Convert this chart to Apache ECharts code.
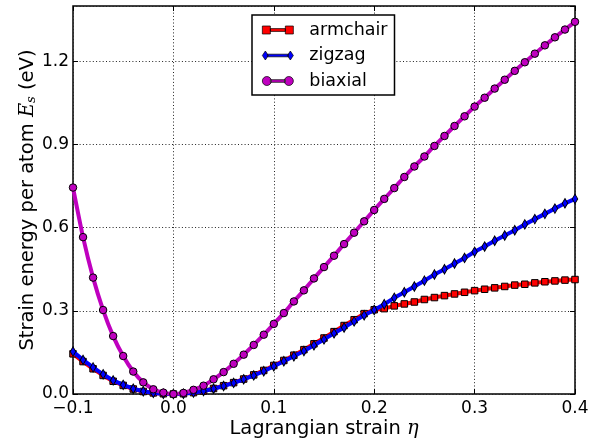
<!DOCTYPE html>
<html>
<head>
<meta charset="utf-8">
<script src="https://cdn.jsdelivr.net/npm/echarts@6/dist/echarts.min.js"></script>
<style>html,body{margin:0;padding:0;background:#fff}#c{width:598px;height:438px}</style>
</head>
<body>
<div id="c"></div>
<script>
var strain = [-0.10,-0.09,-0.08,-0.07,-0.06,-0.05,-0.04,-0.03,-0.02,-0.01,
  0.00,0.01,0.02,0.03,0.04,0.05,0.06,0.07,0.08,0.09,
  0.10,0.11,0.12,0.13,0.14,0.15,0.16,0.17,0.18,0.19,
  0.20,0.21,0.22,0.23,0.24,0.25,0.26,0.27,0.28,0.29,
  0.30,0.31,0.32,0.33,0.34,0.35,0.36,0.37,0.38,0.39,0.40];
var armchair = [0.145,0.117,0.091,0.067,0.046,0.031,0.018,0.009,0.004,0.001,
  0.000,0.001,0.005,0.011,0.020,0.030,0.041,0.054,0.069,0.085,
  0.103,0.121,0.140,0.160,0.181,0.202,0.225,0.247,0.268,0.290,
  0.304,0.308,0.318,0.325,0.332,0.341,0.348,0.355,0.361,0.367,
  0.373,0.378,0.383,0.388,0.393,0.396,0.401,0.405,0.408,0.411,0.413];
var zigzag = [0.153,0.123,0.096,0.071,0.049,0.033,0.019,0.010,0.004,0.001,
  0.000,0.001,0.005,0.011,0.019,0.029,0.040,0.053,0.067,0.082,
  0.100,0.118,0.136,0.155,0.176,0.197,0.219,0.240,0.262,0.284,
  0.303,0.324,0.347,0.367,0.388,0.409,0.431,0.450,0.471,0.491,
  0.513,0.532,0.553,0.572,0.591,0.612,0.631,0.650,0.669,0.688,0.704];
var biaxial = [0.745,0.566,0.420,0.303,0.209,0.137,0.081,0.042,0.017,0.005,
  0.000,0.004,0.015,0.030,0.053,0.079,0.109,0.142,0.177,0.214,
  0.253,0.292,0.334,0.374,0.417,0.458,0.499,0.541,0.582,0.623,
  0.664,0.704,0.743,0.783,0.821,0.857,0.895,0.931,0.967,1.002,
  1.037,1.069,1.102,1.134,1.166,1.197,1.228,1.258,1.287,1.315,1.343];
var seriesNames = ['armchair','zigzag','biaxial'];
var xTicks = {min:-0.1, max:0.4, interval:0.1};
var yTicks = {min:0, max:1.4, interval:0.3};

function pairs(ys){ return strain.map(function(x,i){ return [x, ys[i]]; }); }
function fmt(v){ return v.toFixed(1).replace('-', '\u2212'); }

var FONT = 'DejaVu Sans';
var chart = echarts.init(document.getElementById('c'), null, {renderer:'canvas'});
var gridLine = {show:true, lineStyle:{color:'#222', width:1, type:[1,2.3]}};
var tick = {show:true, inside:true, length:5, lineStyle:{color:'#000'}};
var noLine = {show:false, onZero:false};
var icons = [
  'path://M0,0h8v8h-8z M8,2.6h15v2.8h-15z M23,0h8v8h-8z',
  'path://M3,0L6,4.5L3,9L0,4.5Z M5,3.2h21v2.6h-21z M28,0L31,4.5L28,9L25,4.5Z',
  'path://M0,4.5a4.5,4.5 0 1,0 9,0a4.5,4.5 0 1,0 -9,0z M8,3.2h15v2.6h-15z M22,4.5a4.5,4.5 0 1,0 9,0a4.5,4.5 0 1,0 -9,0z'
];
var option = {
  backgroundColor:'#fff',
  animation:false,
  textStyle:{fontFamily:FONT},
  grid:{left:73, right:23, top:6, bottom:44, show:true, borderColor:'#000', borderWidth:1.5,
    backgroundColor:'transparent', containLabel:false, outerBoundsMode:'none'},
  legend:{
    orient:'vertical', left:252, top:15,
    data:seriesNames.map(function(n,i){ return {name:n, icon:icons[i], itemStyle:{borderWidth:0.7, borderColor:'#000'}}; }),
    itemWidth:31, itemHeight:9, itemGap:7.5,
    padding:[6,7,5,10],
    borderColor:'#000', borderWidth:1.5, backgroundColor:'#fff',
    textStyle:{fontFamily:FONT, fontSize:17.5, color:'#000', lineHeight:18, padding:[0,0,0,11]}
  },
  xAxis:[{
    type:'value', min:xTicks.min, max:xTicks.max, interval:xTicks.interval,
    axisLine:noLine, axisTick:tick,
    axisLabel:{color:'#000', fontSize:17, fontFamily:FONT, margin:6, formatter:fmt},
    splitLine:gridLine,
    name:'Lagrangian strain {i|\u03b7}', nameLocation:'middle', nameGap:25, nameMoveOverlap:false,
    nameTextStyle:{color:'#000', fontSize:19.5, fontFamily:FONT,
      rich:{i:{fontStyle:'italic', fontSize:19.5, fontFamily:'DejaVu Serif', color:'#000'}}}
  },{
    type:'value', position:'top', min:xTicks.min, max:xTicks.max, interval:xTicks.interval,
    axisLine:noLine, axisTick:tick,
    axisLabel:{show:false}, splitLine:{show:false}
  }],
  yAxis:[{
    type:'value', min:yTicks.min, max:yTicks.max, interval:yTicks.interval,
    axisLine:noLine, axisTick:tick,
    axisLabel:{color:'#000', fontSize:17, fontFamily:FONT, margin:4, formatter:fmt, showMaxLabel:false},
    splitLine:gridLine,
    name:'Strain energy per atom {i|E}{s|s} (eV)', nameLocation:'middle', nameGap:35, nameRotate:90, nameMoveOverlap:false,
    nameTextStyle:{color:'#000', fontSize:19.5, fontFamily:FONT,
      rich:{i:{fontStyle:'italic', fontSize:19.5, fontFamily:'DejaVu Serif', color:'#000'},
            s:{fontStyle:'italic', fontSize:13, fontFamily:'DejaVu Serif', color:'#000', verticalAlign:'bottom', padding:[6,0,0,0]}}}
  },{
    type:'value', position:'right', min:yTicks.min, max:yTicks.max, interval:yTicks.interval,
    axisLine:noLine, axisTick:tick,
    axisLabel:{show:false}, splitLine:{show:false}
  }],
  series:[
    {name:seriesNames[0], type:'line', data:pairs(armchair), symbol:'rect', symbolSize:6.5,
      lineStyle:{color:'#ff0000', width:4}, itemStyle:{color:'#ff0000', borderColor:'#000', borderWidth:1}, z:2},
    {name:seriesNames[1], type:'line', data:pairs(zigzag), symbol:'diamond', symbolSize:[5.5,9.5],
      lineStyle:{color:'#0000ff', width:4}, itemStyle:{color:'#0000ff', borderColor:'#000', borderWidth:1}, z:3},
    {name:seriesNames[2], type:'line', data:pairs(biaxial), symbol:'circle', symbolSize:7.5, smooth:0.2,
      lineStyle:{color:'#bf00bf', width:4}, itemStyle:{color:'#bf00bf', borderColor:'#000', borderWidth:1}, z:4}
  ]
};
chart.setOption(option);
</script>
</body>
</html>
